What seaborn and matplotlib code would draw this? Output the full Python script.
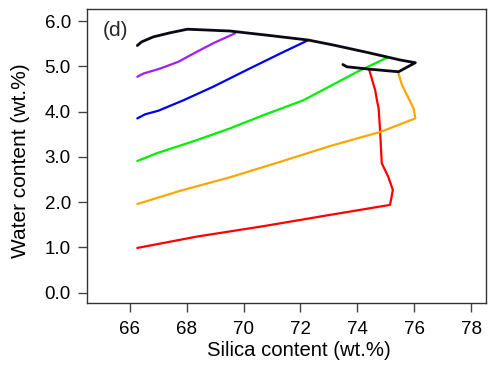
import matplotlib
matplotlib.use("Agg")
import matplotlib.pyplot as plt
import seaborn as sns
import pandas as pd

red_x = [66.26, 68.35, 70.69, 73.04, 75.15, 75.25, 75.09, 74.86, 74.80, 74.75, 74.69, 74.63, 74.42]
red_y = [0.99, 1.24, 1.47, 1.72, 1.94, 2.27, 2.56, 2.86, 3.59, 4.07, 4.25, 4.47, 4.92]

orange_x = [66.26, 67.76, 69.52, 71.28, 73.04, 74.80, 76.04, 75.98, 75.57, 75.43]
orange_y = [1.96, 2.25, 2.55, 2.89, 3.24, 3.55, 3.85, 4.07, 4.59, 4.88]

green_x = [66.26, 66.94, 68.35, 69.52, 70.69, 72.10, 74.0, 75.04]
green_y = [2.91, 3.08, 3.37, 3.63, 3.92, 4.25, 4.88, 5.19]

blue_x = [66.26, 66.53, 67.0, 67.88, 68.93, 70.11, 71.28, 72.28]
blue_y = [3.85, 3.94, 4.02, 4.25, 4.55, 4.92, 5.28, 5.58]

purple_x = [66.26, 66.47, 67.06, 67.70, 68.35, 68.93, 69.70]
purple_y = [4.77, 4.84, 4.95, 5.10, 5.32, 5.51, 5.73]

black_x = [66.26, 66.41, 66.82, 67.41, 68.02, 69.52, 70.93, 72.28, 73.16, 74.33, 75.51, 76.04,
           75.45, 74.39, 73.63, 73.49]
black_y = [5.46, 5.54, 5.65, 5.74, 5.82, 5.78, 5.68, 5.58, 5.47, 5.31, 5.14, 5.08,
           4.88, 4.94, 4.99, 5.04]

x_ticks = [66, 68, 70, 72, 74, 76, 78]
y_ticks = [0.0, 1.0, 2.0, 3.0, 4.0, 5.0, 6.0]

sns.set_theme(style="ticks")
plt.rcParams['font.family'] = ['Liberation Sans', 'DejaVu Sans']

fig = plt.figure(figsize=(4.9, 3.71), dpi=100)
ax = fig.add_axes([0.177, 0.184, 0.815, 0.791])

series = [
    (red_x, red_y, "#ff0000", 1.6),
    (orange_x, orange_y, "#ffa500", 1.6),
    (green_x, green_y, "#00ee00", 1.6),
    (blue_x, blue_y, "#0000ee", 1.6),
    (purple_x, purple_y, "#a020f0", 1.6),
    (black_x, black_y, "#0a0a14", 2.0),
]
for xs, ys, c, lw in series:
    df = pd.DataFrame({"x": xs, "y": ys})
    sns.lineplot(data=df, x="x", y="y", sort=False, estimator=None, color=c, lw=lw, ax=ax)

ax.set_xlim(64.48, 78.53)
ax.set_ylim(-0.22, 6.26)
ax.set_xticks(x_ticks)
ax.set_xticklabels([str(t) for t in x_ticks])
ax.set_yticks(y_ticks)
ax.set_yticklabels([f"{t:.1f}" for t in y_ticks])
ax.tick_params(direction="out", length=6.5, width=1.0, color="#444444", labelsize=13.5, labelcolor="black")
ax.tick_params(axis="x", pad=7)
ax.tick_params(axis="y", pad=5)
for s in ax.spines.values():
    s.set_visible(True)
    s.set_color("#333333")
    s.set_linewidth(1.0)
ax.set_xlabel("Silica content (wt.%)", fontsize=14.6, color="black")
ax.set_ylabel("Water content (wt.%)", fontsize=15, color="black")
ax.xaxis.set_label_coords(0.531, -0.1636)
ax.xaxis.label.set_va("center")
ax.yaxis.set_label_coords(-0.167, 0.484)
ax.yaxis.label.set_va("center")
ax.yaxis.label.set_ha("center")
ax.text(0.041, 0.926, "(d)", transform=ax.transAxes, fontsize=15, va="center", ha="left")

fig.savefig("out.png", dpi=100)
